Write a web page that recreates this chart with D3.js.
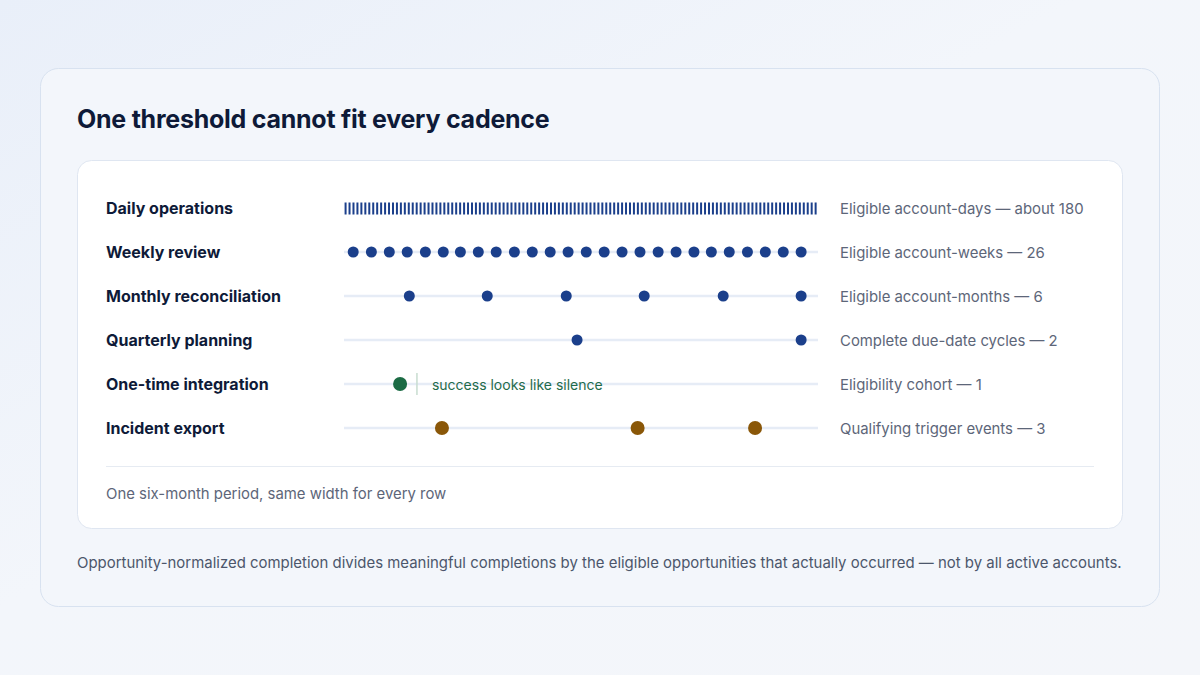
<!DOCTYPE html>
<meta charset="utf-8">
<script src="https://d3js.org/d3.v7.min.js"></script>
<style>
  html, body { margin: 0; padding: 0; }
  body { width: 1200px; height: 675px; overflow: hidden; font-family: Inter, "Noto Sans", sans-serif; }
</style>
<div id="chart"></div>
<script>

// rows, top to bottom
const rowLabels = ["Daily operations", "Weekly review", "Monthly reconciliation",
                   "Quarterly planning", "One-time integration", "Incident export"];
const rowNotes = ["Eligible account-days \u2014 about 180", "Eligible account-weeks \u2014 26",
                  "Eligible account-months \u2014 6", "Complete due-date cycles \u2014 2",
                  "Eligibility cohort \u2014 1", "Qualifying trigger events \u2014 3"];

// opportunity positions, in days into the six-month period
const dailyDays = [
  0, 1.5, 3, 4.5, 6, 7.5, 9, 10.5, 12, 13.5, 15, 16.5, 18, 19.5, 21, 22.5, 24, 25.5, 27, 28.5,
  30, 31.5, 33, 34.5, 36, 37.5, 39, 40.5, 42, 43.5, 45, 46.5, 48, 49.5, 51, 52.5, 54, 55.5, 57, 58.5,
  60, 61.5, 63, 64.5, 66, 67.5, 69, 70.5, 72, 73.5, 75, 76.5, 78, 79.5, 81, 82.5, 84, 85.5, 87, 88.5,
  90, 91.5, 93, 94.5, 96, 97.5, 99, 100.5, 102, 103.5, 105, 106.5, 108, 109.5, 111, 112.5, 114, 115.5, 117, 118.5,
  120, 121.5, 123, 124.5, 126, 127.5, 129, 130.5, 132, 133.5, 135, 136.5, 138, 139.5, 141, 142.5, 144, 145.5, 147, 148.5,
  150, 151.5, 153, 154.5, 156, 157.5, 159, 160.5, 162, 163.5, 165, 166.5, 168, 169.5, 171, 172.5, 174, 175.5, 177, 178.5];
const weeklyDays = [3.5, 10.4, 17.2, 24.0, 30.9, 37.7, 44.2, 51.0, 57.8, 64.7, 71.5, 78.3, 85.1,
                    92.0, 98.8, 105.6, 112.4, 119.3, 126.1, 132.9, 139.5, 146.3, 153.2, 160.0, 166.8, 173.6];
const monthlyDays = [24.8, 54.4, 84.4, 114.0, 144.0, 173.6];
const quarterlyDays = [88.5, 173.6];
const oneTimeDays = [21.3];
const silenceMarkDay = 27.7;
const incidentDays = [37.2, 111.5, 156.1];

const W = 1200, H = 675;
const blue = "#1b3f8b", green = "#1b6b44", brown = "#8a5708";

const svg = d3.select("#chart").append("svg")
    .attr("width", W).attr("height", H);

// page background
const defs = svg.append("defs");
const bg = defs.append("linearGradient").attr("id", "bg")
    .attr("x1", "0").attr("y1", "0").attr("x2", "1").attr("y2", "1");
bg.append("stop").attr("offset", "0").attr("stop-color", "#e9eff9");
bg.append("stop").attr("offset", "0.45").attr("stop-color", "#f3f6fb");
bg.append("stop").attr("offset", "1").attr("stop-color", "#f4f6fa");
svg.append("rect").attr("width", W).attr("height", H).attr("fill", "url(#bg)");

// outer card
svg.append("rect")
    .attr("x", 40.5).attr("y", 68.5).attr("width", 1119).attr("height", 538)
    .attr("rx", 18).attr("fill", "#f3f6fb").attr("stroke", "#d8e2f0");

svg.append("text")
    .attr("x", 77).attr("y", 127.5)
    .attr("font-size", 25).attr("font-weight", 700)
    .attr("letter-spacing", "-0.01em")
    .attr("fill", "#0e1a38")
    .text("One threshold cannot fit every cadence");

// inner card
svg.append("rect")
    .attr("x", 77.5).attr("y", 160.5).attr("width", 1045).attr("height", 368)
    .attr("rx", 14).attr("fill", "#ffffff").attr("stroke", "#dfe6f1");

const x = d3.scaleLinear().domain([0, 180]).range([344, 818]);
const y = d3.scalePoint().domain(rowLabels).range([208, 428]);

// row labels and notes
svg.append("g").selectAll("text")
  .data(rowLabels)
  .join("text")
    .attr("x", 106).attr("y", d => y(d))
    .attr("dy", "0.4em")
    .attr("font-size", 16).attr("font-weight", 700)
    .attr("fill", "#0e1a38")
    .text(d => d);

svg.append("g").selectAll("text")
  .data(rowNotes)
  .join("text")
    .attr("x", 840).attr("y", (d, i) => y(rowLabels[i]))
    .attr("dy", "0.4em")
    .attr("font-size", 14.9).attr("fill", "#5d6679")
    .text(d => d);

// tracks (daily row is fully covered by its ticks)
svg.append("g").selectAll("line")
  .data(rowLabels.slice(1))
  .join("line")
    .attr("x1", x(0)).attr("x2", x(180))
    .attr("y1", d => y(d)).attr("y2", d => y(d))
    .attr("stroke", "#e6ecf6").attr("stroke-width", 2.5);

// daily ticks
svg.append("g").selectAll("line")
  .data(dailyDays)
  .join("line")
    .attr("x1", d => x(d + 0.6)).attr("x2", d => x(d + 0.6))
    .attr("y1", y(rowLabels[0]) - 5.5).attr("y2", y(rowLabels[0]) + 6.5)
    .attr("stroke", blue).attr("stroke-width", 2);

function dots(days, row, r, color) {
  svg.append("g").selectAll("circle")
    .data(days)
    .join("circle")
      .attr("cx", d => x(d)).attr("cy", y(row))
      .attr("r", r).attr("fill", color);
}
dots(weeklyDays, rowLabels[1], 5.5, blue);
dots(monthlyDays, rowLabels[2], 5.5, blue);
dots(quarterlyDays, rowLabels[3], 5.5, blue);

// one-time integration: single dot then silence
svg.append("line")
    .attr("x1", x(silenceMarkDay)).attr("x2", x(silenceMarkDay))
    .attr("y1", y(rowLabels[4]) - 11).attr("y2", y(rowLabels[4]) + 11)
    .attr("stroke", "#c8ddd0").attr("stroke-width", 1.5);
dots(oneTimeDays, rowLabels[4], 7, green);
svg.append("text")
    .attr("x", x(silenceMarkDay) + 15).attr("y", y(rowLabels[4]))
    .attr("dy", "0.4em")
    .attr("font-size", 14).attr("fill", "#1f6b4b")
    .text("success looks like silence");

dots(incidentDays, rowLabels[5], 7, brown);

// divider and caption
svg.append("line")
    .attr("x1", 106).attr("x2", 1094).attr("y1", 466.5).attr("y2", 466.5)
    .attr("stroke", "#e6ebf2");
svg.append("text")
    .attr("x", 106).attr("y", 493).attr("dy", "0.4em")
    .attr("font-size", 14.9).attr("fill", "#5d6679")
    .text("One six-month period, same width for every row");

svg.append("text")
    .attr("x", 77).attr("y", 562).attr("dy", "0.4em")
    .attr("font-size", 14.95).attr("fill", "#4c566b")
    .text("Opportunity-normalized completion divides meaningful completions by the eligible opportunities that actually occurred \u2014 not by all active accounts.");

</script>
